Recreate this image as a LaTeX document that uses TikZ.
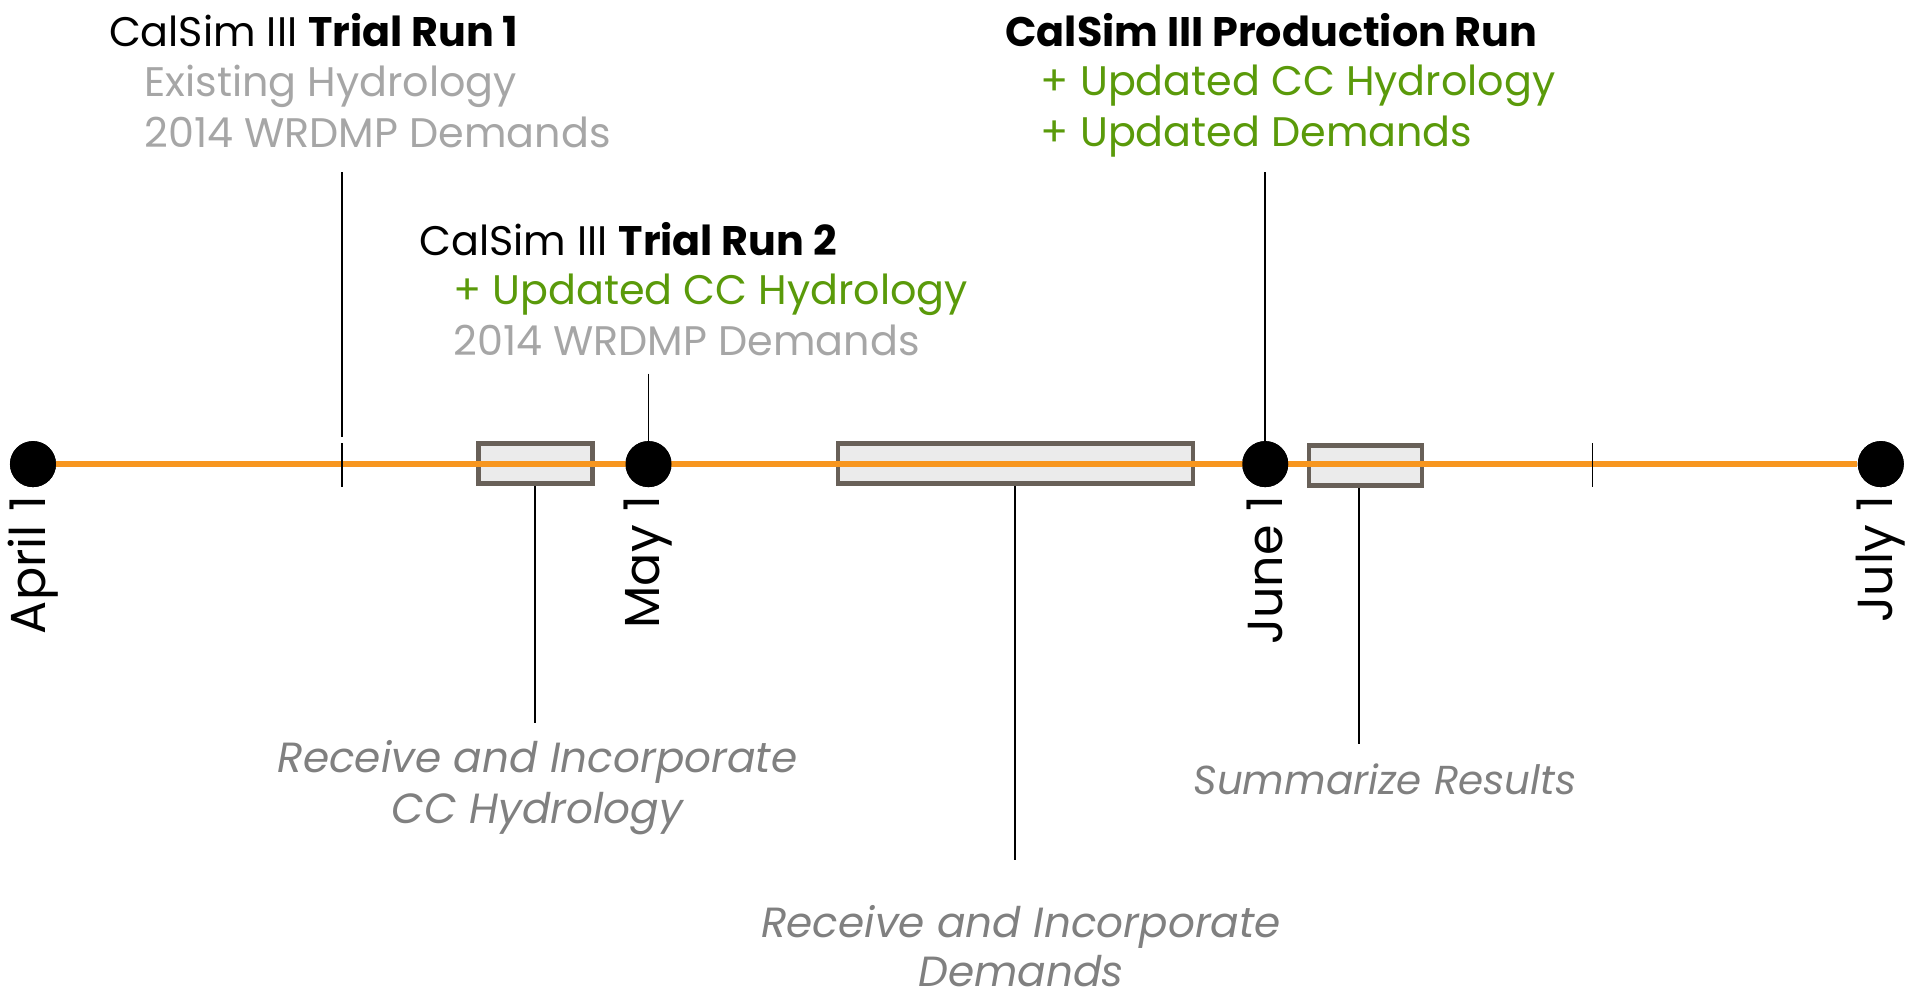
\documentclass[tikz,border=0pt]{standalone}
\usepackage{fontspec}
\setmainfont{Poppins}
\usetikzlibrary{positioning}

\definecolor{lineorange}{HTML}{F7961F}
\definecolor{newgreen}{HTML}{5A9A0A}
\definecolor{oldgray}{HTML}{A6A6A6}
\definecolor{notegray}{HTML}{808080}
\definecolor{boxfill}{HTML}{EBEBEB}
\definecolor{boxedge}{HTML}{686058}

\begin{document}
\begin{tikzpicture}[x=0.024426cm,y=-0.024426cm]
\tikzstyle{milestone} = [circle,fill=black,inner sep=0,minimum size=0.92cm]
\tikzstyle{task} = [draw=boxedge,fill=boxfill,line width=2.6pt,inner sep=0,minimum height=0.8cm]
\tikzstyle{date} = [rotate=90,anchor=east,inner sep=0,font=\fontsize{28}{30}\selectfont]
\tikzstyle{run} = [anchor=north west,inner sep=0,align=left,font=\fontsize{23.5}{28.8}\selectfont]
\tikzstyle{note} = [anchor=north,inner sep=0,align=center,text=notegray,font=\fontsize{24}{29}\selectfont\itshape]
\tikzstyle{link} = [line width=1pt]

\useasboundingbox (0,0) rectangle (1568,817);

% runs
\node(run1)[run] at (89,11) {CalSim III \textbf{Trial Run 1}};
\node(run1det)[run, text=oldgray] at (118,53) {Existing Hydrology\\2014 WRDMP Demands};
\node(run2)[run] at (343,182) {CalSim III \textbf{Trial Run 2}};
\node(run2det)[run] at (371,224) {\textcolor{newgreen}{+ Updated CC Hydrology}\\\textcolor{oldgray}{2014 WRDMP Demands}};
\node(run3)[run] at (823,11) {\textbf{CalSim III Production Run}};
\node(run3det)[run, text=newgreen] at (852,53) {+ Updated CC Hydrology\\+ Updated Demands};

% tasks
\node(box1)[task, minimum width=2.28cm] at (438.5,379.5) {};
\node(box2)[task, minimum width=7.1cm] at (831.5,379.5) {};
\node(box3)[task, minimum width=2.26cm] at (1118,381) {};

% timeline
\node(apr)[milestone] at (27,380) {};
\node(may)[milestone] at (531,380) {};
\node(jun)[milestone] at (1036,380) {};
\node(jul)[milestone] at (1540,380) {};
\draw [lineorange, line width=3pt] (apr) -- (jul);
\node[milestone] at (apr) {};
\node[milestone] at (may) {};
\node[milestone] at (jun) {};
\node[milestone] at (jul) {};

\node(aprlbl)[date] at (27,406) {April 1};
\node(maylbl)[date] at (531,406) {May 1};
\node(junlbl)[date] at (1036,406) {June 1};
\node(jullbl)[date] at (1540,406) {July 1};

% ticks
\coordinate (tick1) at (280,380);
\coordinate (tick2) at (1304,380);
\draw [link] ([yshift=-0.45cm]tick1) -- ([yshift=0.42cm]tick1);
\draw [link] ([yshift=-0.45cm]tick2) -- ([yshift=0.42cm]tick2);

% run connectors
\coordinate (run1top) at (280,141);
\coordinate (run2top) at (531,306);
\coordinate (run3top) at (1036,141);
\draw [link] (run1top) -- ([yshift=0.55cm]tick1);
\draw [link] (run2top) -- (may.north);
\draw [link] (run3top) -- (jun.north);

% task connectors
\coordinate (hydend) at (438,592);
\coordinate (demend) at (831,704);
\coordinate (sumend) at (1113,609);
\draw [link] (box1.south -| hydend) -- (hydend);
\draw [link] (box2.south -| demend) -- (demend);
\draw [link] (box3.south -| sumend) -- (sumend);

\node(hydnote)[note] at (440,606) {Receive and Incorporate\\CC Hydrology};
\node(demnote)[note, font=\fontsize{24}{28}\selectfont\itshape] at (836,741) {Receive and Incorporate\\Demands};
\node(sumnote)[note, font=\fontsize{23}{29}\selectfont\itshape] at (1134,625) {Summarize Results};
\end{tikzpicture}
\end{document}
